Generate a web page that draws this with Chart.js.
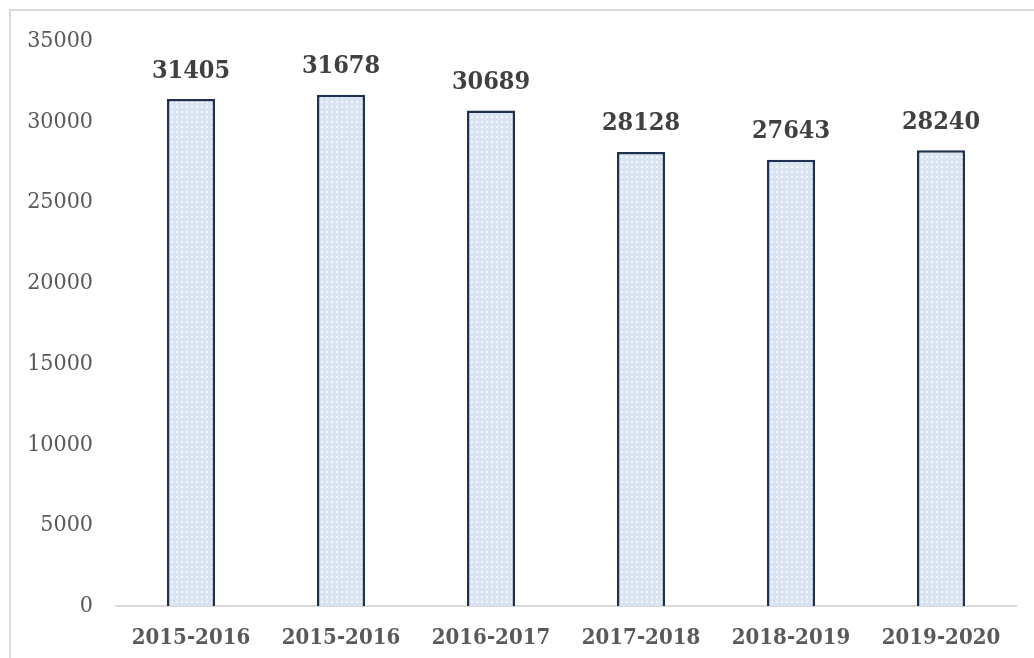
<!DOCTYPE html>
<html>
<head>
<meta charset="utf-8">
<script src="https://cdn.jsdelivr.net/npm/chart.js"></script>
<style>
  html, body { margin: 0; padding: 0; background: #fff; overflow: hidden; }
  #frame { position: absolute; left: 9px; top: 9px; width: 2000px; height: 2000px;
           border-top: 2px solid #d9d9d9; border-left: 2px solid #d9d9d9; }
  #wrap { position: absolute; left: 0; top: 0; width: 1034px; height: 658px; }
</style>
</head>
<body>
<div id="frame"></div>
<div id="wrap"><canvas id="c"></canvas></div>
<script>
// years and counts
const years = ['2015-2016', '2015-2016', '2016-2017', '2017-2018', '2018-2019', '2019-2020'];
const counts = [31405, 31678, 30689, 28128, 27643, 28240];
const yTicks = [0, 5000, 10000, 15000, 20000, 25000, 30000, 35000];

const FONT = '"DejaVu Serif Condensed", "DejaVu Serif", serif';

function dots() {
  const p = document.createElement('canvas');
  p.width = 5; p.height = 5;
  const g = p.getContext('2d');
  g.fillStyle = '#d9e3f2';
  g.fillRect(0, 0, 5, 5);
  g.fillStyle = '#f5f8fc';
  g.fillRect(1, 1, 2, 2);
  return g.createPattern(p, 'repeat');
}

const valueLabels = {
  id: 'valueLabels',
  afterDatasetsDraw(chart) {
    const ctx = chart.ctx;
    const meta = chart.getDatasetMeta(0);
    ctx.save();
    ctx.font = 'bold 25px ' + FONT;
    ctx.fillStyle = '#404040';
    ctx.textAlign = 'center';
    ctx.textBaseline = 'middle';
    meta.data.forEach((bar, i) => {
      ctx.fillText(String(counts[i]), bar.x, bar.y - 28);
    });
    ctx.restore();
  }
};

new Chart(document.getElementById('c'), {
  type: 'bar',
  data: {
    labels: years,
    datasets: [{
      data: counts,
      backgroundColor: dots(),
      borderColor: '#1f3150',
      borderWidth: 2.5,
      borderSkipped: 'bottom',
      categoryPercentage: 1,
      barPercentage: 0.32
    }]
  },
  options: {
    responsive: true,
    maintainAspectRatio: false,
    animation: false,
    layout: {padding: {top: 41, right: 18, left: 0, bottom: 0}},
    plugins: {legend: {display: false}, tooltip: {enabled: false}},
    scales: {
      x: {
        grid: {display: false, drawTicks: false},
        border: {color: '#d9d9d9', width: 2},
        ticks: {
          color: '#595959',
          font: {family: FONT, size: 22, weight: 'bold'},
          padding: 19,
          maxRotation: 0
        },
        afterFit(s) { s.height = 52; }
      },
      y: {
        min: 0, max: 35000,
        afterBuildTicks(s) { s.ticks = yTicks.map(v => ({value: v})); },
        grid: {display: false, drawTicks: false},
        border: {display: false},
        ticks: {
          color: '#595959',
          font: {family: FONT, size: 23},
          padding: 23,
          callback: v => String(v)
        },
        afterFit(s) { s.width = 116; }
      }
    }
  },
  plugins: [valueLabels]
});
</script>
</body>
</html>
